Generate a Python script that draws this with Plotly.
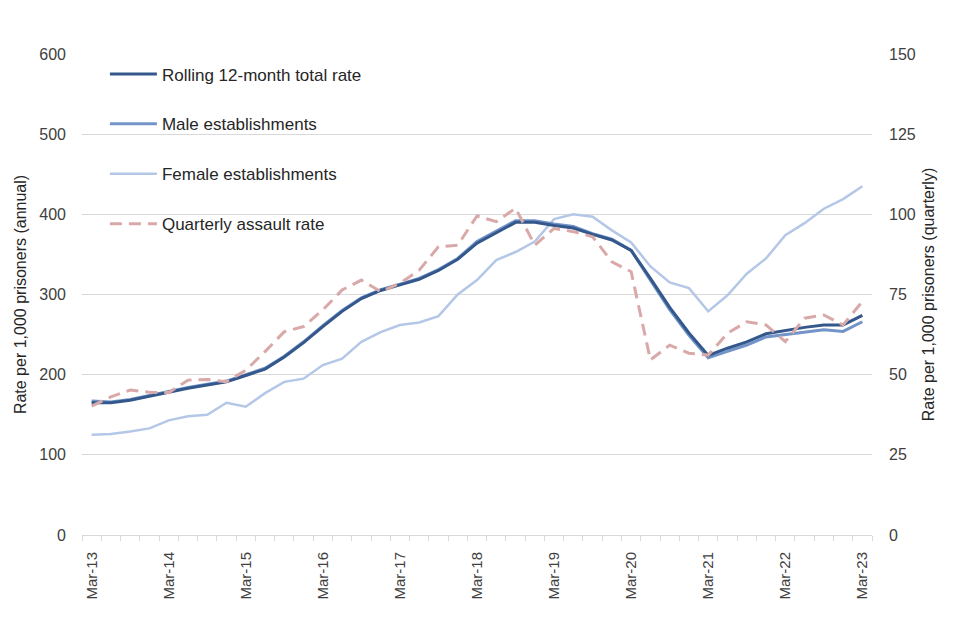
import plotly.graph_objects as go

quarters = [f"{m}-{y:02d}" for y in range(13, 24) for m in ["Mar", "Jun", "Sep", "Dec"]][:41]
tick_labels = ["Mar-13", "Mar-14", "Mar-15", "Mar-16", "Mar-17", "Mar-18",
               "Mar-19", "Mar-20", "Mar-21", "Mar-22", "Mar-23"]

total_rate = [165, 165, 168, 173, 178, 183, 187, 191, 199, 207, 222, 240, 260, 279,
              295, 305, 312, 319, 330, 344, 364, 377, 390, 390, 386, 383, 375, 368,
              355, 320, 284, 252, 224, 233, 241, 251, 255, 259, 262, 262, 274]
male_rate = [167, 166, 169, 174, 179, 184, 188, 192, 200, 208, 223, 241, 261, 280,
             296, 306, 313, 320, 331, 345, 366, 379, 392, 392, 388, 385, 376, 369,
             355, 318, 281, 249, 221, 229, 237, 247, 250, 253, 256, 254, 266]
female_rate = [125, 126, 129, 133, 143, 148, 150, 165, 160, 177, 191, 195, 212, 220,
               241, 253, 262, 265, 273, 300, 318, 343, 353, 366, 394, 400, 397, 380,
               365, 335, 315, 308, 279, 299, 326, 345, 374, 389, 407, 419, 435]
quarterly_rate = [40.2, 43.1, 45.2, 44.5, 44.4, 48.3, 48.5, 47.8, 51.4, 57.2, 63.4,
                  65.0, 70.2, 76.4, 79.5, 75.9, 78.5, 82.6, 89.9, 90.4, 99.5, 97.7,
                  101.9, 90.4, 95.6, 94.6, 93.0, 85.2, 82.1, 54.6, 59.2, 56.7, 56.1,
                  62.9, 66.5, 65.5, 60.3, 67.6, 68.6, 65.5, 72.8]

x = list(range(len(quarters)))
tick_pos = [quarters.index(t) for t in tick_labels]

FONT = "Liberation Sans, Arial, sans-serif"
TXT = "#404040"

fig = go.Figure()
fig.add_trace(go.Scatter(x=x, y=female_rate, mode="lines", name="Female establishments",
                         line=dict(color="#b4c7e7", width=2.5), legendgroup="c", legendrank=3))
fig.add_trace(go.Scatter(x=x, y=male_rate, mode="lines", name="Male establishments",
                         line=dict(color="#7294c9", width=3), legendgroup="b", legendrank=2))
fig.add_trace(go.Scatter(x=x, y=total_rate, mode="lines", name="Rolling 12-month total rate",
                         line=dict(color="#34588c", width=3), legendgroup="a", legendrank=1))
fig.add_trace(go.Scatter(x=x, y=quarterly_rate, mode="lines", name="Quarterly assault rate",
                         line=dict(color="#d9a9a9", width=3, dash="12px,7px"),
                         yaxis="y2", legendgroup="d", legendrank=4))

fig.update_layout(
    width=952, height=632,
    margin=dict(l=70, r=88, t=46, b=105),
    paper_bgcolor="white", plot_bgcolor="white",
    font=dict(family=FONT, size=16, color=TXT),
    showlegend=True,
    legend=dict(x=0.029, y=0.995, xanchor="left", yanchor="top",
                traceorder="grouped", tracegroupgap=24.8, itemwidth=47,
                bgcolor="rgba(0,0,0,0)", font=dict(size=17, color="#262626")),
    xaxis=dict(range=[-0.5, 40.5], tickmode="array", tickvals=tick_pos, ticktext=tick_labels,
               tickangle=-90, ticks="", showgrid=False, zeroline=False,
               showline=True, linecolor="#d9d9d9", linewidth=1,
               tickfont=dict(size=15),
               minor=dict(tick0=-0.5, dtick=1, ticks="outside", ticklen=5,
                          tickcolor="#d9d9d9", showgrid=False),
               ticklabelstandoff=10),
    yaxis=dict(range=[0, 600], dtick=100, showgrid=True, gridcolor="#d9d9d9", gridwidth=1,
               zeroline=False, showline=False, ticks="", ticklabelstandoff=15,
               title=dict(text="Rate per 1,000 prisoners (annual)", standoff=8,
                          font=dict(size=16, color="#262626"))),
    yaxis2=dict(range=[0, 150], dtick=25, overlaying="y", side="right", showgrid=False,
                zeroline=False, showline=False, ticks="", ticklabelstandoff=16,
                title=dict(text="Rate per 1,000 prisoners (quarterly)", standoff=8,
                           font=dict(size=16, color="#262626"))),
)

fig.write_html("out.html")
